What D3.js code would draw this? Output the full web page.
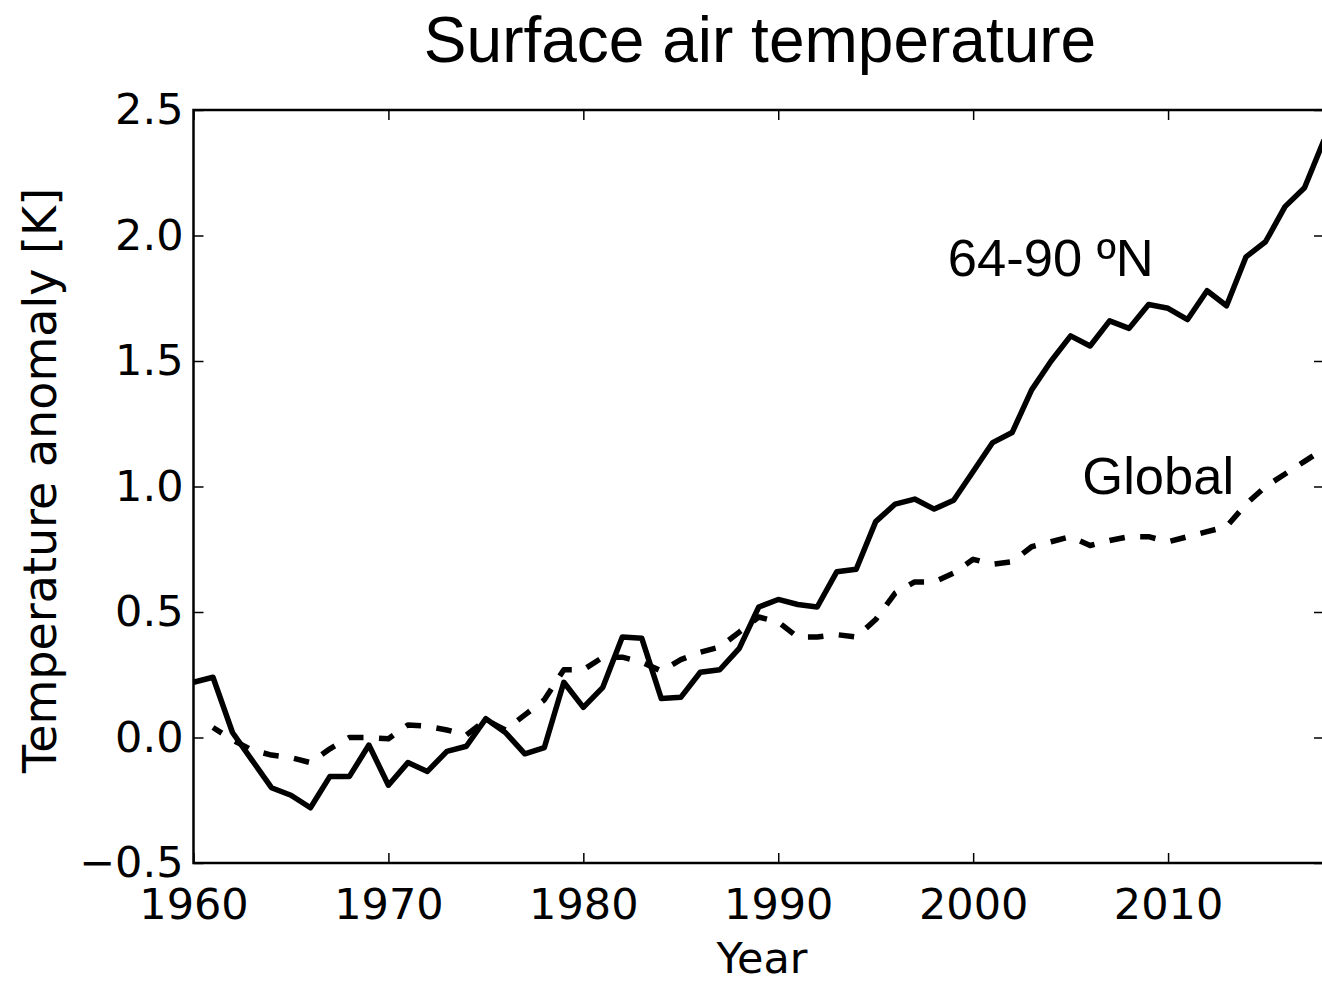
<!DOCTYPE html>
<html>
<head>
<meta charset="utf-8">
<script src="https://cdn.jsdelivr.net/npm/d3@7"></script>
<style>
  html, body { margin: 0; padding: 0; background: #fff; }
  svg { display: block; }
</style>
</head>
<body>
<svg id="chart" width="1322" height="982"></svg>
<script>
// Annual surface air temperature anomalies (K)
const years = d3.range(1960, 2019);

const arcticValues = [
  0.22, 0.24, 0.02, -0.09, -0.20, -0.23, -0.28, -0.155, -0.155, -0.03,
  -0.19, -0.10, -0.135, -0.055, -0.035, 0.075, 0.02, -0.065, -0.04, 0.22,
  0.12, 0.20, 0.40, 0.395, 0.155, 0.16, 0.26, 0.27, 0.355, 0.52,
  0.55, 0.53, 0.52, 0.66, 0.67, 0.86, 0.93, 0.95, 0.91, 0.945,
  1.06, 1.175, 1.215, 1.385, 1.50, 1.60, 1.56, 1.66, 1.63, 1.725,
  1.71, 1.665, 1.78, 1.72, 1.915, 1.975, 2.115, 2.19, 2.38
];

const globalYears = d3.range(1961, 2019);
const globalValues = [
  0.04, -0.01, -0.05, -0.07, -0.08, -0.10, -0.045, 0.0, 0.0,
  -0.005, 0.05, 0.045, 0.03, 0.01, 0.07, 0.03, 0.09, 0.15, 0.27,
  0.27, 0.32, 0.32, 0.30, 0.265, 0.31, 0.34, 0.36, 0.42, 0.48,
  0.46, 0.40, 0.40, 0.41, 0.40, 0.47, 0.575, 0.62, 0.62, 0.655,
  0.71, 0.69, 0.70, 0.76, 0.78, 0.80, 0.765, 0.785, 0.80, 0.80,
  0.78, 0.80, 0.82, 0.84, 0.93, 1.00, 1.05, 1.10, 1.15
];

const xTicks = [1960, 1970, 1980, 1990, 2000, 2010];
const yTicks = [-0.5, 0.0, 0.5, 1.0, 1.5, 2.0, 2.5];

const titleText = "Surface air temperature";
const xLabel = "Year";
const yLabel = "Temperature anomaly [K]";
const arcticLabel = "64-90 \u00baN";
const globalLabel = "Global";

// Layout
const plot = { left: 193.5, right: 1324, top: 110, bottom: 863 };
const tickFont = "DejaVu Sans";
const tickSize = 43;
const labelFont = "Liberation Sans, Arial, sans-serif";

const svg = d3.select("#chart");

const x = d3.scaleLinear().domain([1960, 2018]).range([plot.left, plot.right]);
const y = d3.scaleLinear().domain([-0.5, 2.5]).range([plot.bottom, plot.top]);

const fmt = d3.format(".1f");

// Axes with inward ticks on all four sides
const bottomAxis = d3.axisBottom(x).tickValues(xTicks).tickFormat(d3.format("d"))
  .tickSizeInner(-10).tickSizeOuter(0).tickPadding(25);
const leftAxis = d3.axisLeft(y).tickValues(yTicks).tickFormat(fmt)
  .tickSizeInner(-10).tickSizeOuter(0).tickPadding(10);
const topAxis = d3.axisTop(x).tickValues(xTicks).tickFormat("")
  .tickSizeInner(-10).tickSizeOuter(0);
const rightAxis = d3.axisRight(y).tickValues(yTicks).tickFormat("")
  .tickSizeInner(-10).tickSizeOuter(0);

function styleAxis(g) {
  g.select(".domain").remove();
  g.selectAll(".tick line").attr("stroke", "#000").attr("stroke-width", 1.5);
  g.selectAll(".tick text")
    .attr("fill", "#000")
    .style("font-family", tickFont)
    .style("font-size", tickSize + "px");
}

svg.append("g").attr("transform", `translate(0,${plot.bottom})`).call(bottomAxis).call(styleAxis);
svg.append("g").attr("transform", `translate(${plot.left},0)`).call(leftAxis).call(styleAxis);
svg.append("g").attr("transform", `translate(0,${plot.top})`).call(topAxis).call(styleAxis);
svg.append("g").attr("transform", `translate(${plot.right},0)`).call(rightAxis).call(styleAxis);

// Clip series to the plotting area
svg.append("clipPath").attr("id", "plot-clip")
  .append("rect")
  .attr("x", plot.left).attr("y", plot.top)
  .attr("width", plot.right - plot.left).attr("height", plot.bottom - plot.top);

const line = d3.line().x(d => x(d[0])).y(d => y(d[1]));

const series = svg.append("g").attr("clip-path", "url(#plot-clip)");

// Global mean (dashed)
series.append("path")
  .datum(globalYears.map((yr, i) => [yr, globalValues[i]]))
  .attr("d", line)
  .attr("fill", "none")
  .attr("stroke", "#000")
  .attr("stroke-width", 5.5)
  .attr("stroke-linejoin", "round")
  .attr("stroke-dasharray", "15.5,15.5")
  .attr("stroke-dashoffset", 5);

// Arctic 64-90N (solid)
series.append("path")
  .datum(years.map((yr, i) => [yr, arcticValues[i]]))
  .attr("d", line)
  .attr("fill", "none")
  .attr("stroke", "#000")
  .attr("stroke-width", 5.5)
  .attr("stroke-linejoin", "round");

// Frame
svg.append("rect")
  .attr("x", plot.left).attr("y", plot.top)
  .attr("width", plot.right - plot.left).attr("height", plot.bottom - plot.top)
  .attr("fill", "none").attr("stroke", "#000").attr("stroke-width", 2.5);

// Title and axis labels
svg.append("text")
  .attr("x", 760).attr("y", 62)
  .attr("text-anchor", "middle")
  .style("font-family", labelFont)
  .style("font-size", "64px")
  .text(titleText);

svg.append("text")
  .attr("x", 762).attr("y", 973)
  .attr("text-anchor", "middle")
  .style("font-family", tickFont)
  .style("font-size", "43px")
  .text(xLabel);

svg.append("text")
  .attr("transform", `translate(56,${(plot.top + plot.bottom) / 2 - 6}) rotate(-90)`)
  .attr("text-anchor", "middle")
  .style("font-family", tickFont)
  .style("font-size", "46px")
  .text(yLabel);

// Series labels
svg.append("text")
  .attr("x", x(1998.7)).attr("y", y(1.84))
  .style("font-family", labelFont)
  .style("font-size", "52.5px")
  .text(arcticLabel);

svg.append("text")
  .attr("x", x(2005.6)).attr("y", y(0.97))
  .style("font-family", labelFont)
  .style("font-size", "52.5px")
  .text(globalLabel);
</script>
</body>
</html>
